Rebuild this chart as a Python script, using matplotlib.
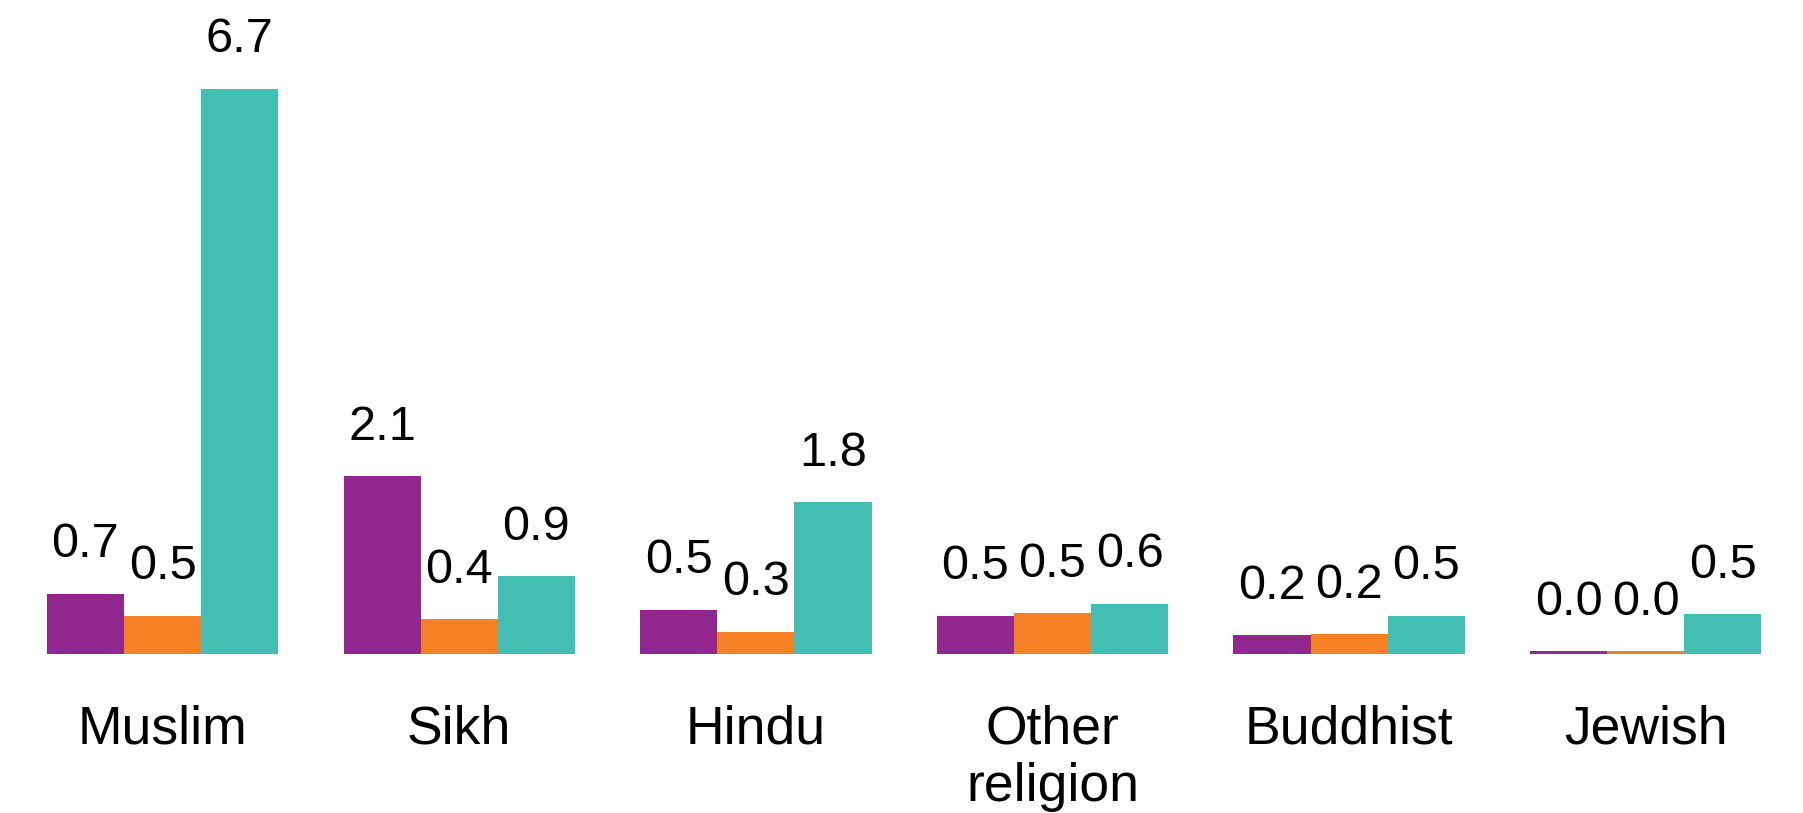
import numpy as np
import matplotlib
matplotlib.use("Agg")
import matplotlib.pyplot as plt

categories = ["Muslim", "Sikh", "Hindu", "Other\nreligion", "Buddhist", "Jewish"]
series_a = [0.72, 2.11, 0.53, 0.46, 0.23, 0.04]
series_b = [0.46, 0.42, 0.27, 0.49, 0.24, 0.04]
series_c = [6.70, 0.93, 1.80, 0.60, 0.46, 0.48]
colors = ["#92278F", "#F47F24", "#42BEB2"]

plt.rcParams['font.family'] = ['Liberation Sans', 'DejaVu Sans']

fig = plt.figure(figsize=(18.03, 8.13), dpi=100)
ax = fig.add_axes([0, 0.195, 1, 0.805])

x = np.arange(len(categories))
w = 0.26
for k, (vals, col) in enumerate(zip([series_a, series_b, series_c], colors)):
    pos = x + (k - 1) * w
    bars = ax.bar(pos, vals, width=w, color=col, linewidth=0)
    for b, v in zip(bars, vals):
        ax.annotate(f"{v:.1f}", (b.get_x() + b.get_width() / 2, b.get_height()),
                    xytext=(0, 19), textcoords="offset points",
                    ha="center", va="bottom", fontsize=35)

ax.set_xlim(-0.548, 5.53)
ax.set_ylim(0, 7.75)
ax.set_xticks(x)
ax.set_xticklabels(categories, fontsize=38.5, linespacing=1.2)
ax.tick_params(axis="x", length=0, pad=36)
ax.set_yticks([])
for s in ax.spines.values():
    s.set_visible(False)

fig.savefig("out.png", dpi=100)
